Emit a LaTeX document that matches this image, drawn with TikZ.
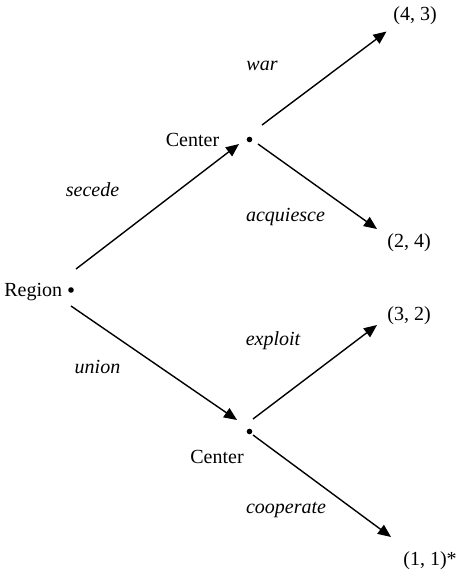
\documentclass[tikz,border=0pt]{standalone}
\usepackage{fontspec}
\setmainfont{Liberation Serif}
\usetikzlibrary{arrows.meta}
\begin{document}
\begin{tikzpicture}[x=0.5pt,y=-0.5pt,
  dot/.style={circle,fill=black,inner sep=0pt,minimum size=2.8pt},
  txt/.style={inner sep=0pt,font=\fontsize{10}{12}\selectfont},
  act/.style={inner sep=0pt,font=\fontsize{10}{12}\selectfont\itshape,anchor=base},
  move/.style={-{Triangle[length=6.5pt,width=5.5pt]},line width=0.7pt}]
\useasboundingbox (0,0) rectangle (456,574);
% decision nodes
\node[dot] (r) at (71,290) {};
\node[dot] (c1) at (249.5,139.5) {};
\node[dot] (c2) at (249.5,431.5) {};
\node[txt,anchor=base east] (rl) at (62.5,296) {Region};
\node[txt,anchor=base] (c1l) at (192.5,146) {Center};
\node[txt,anchor=base] (c2l) at (217,463) {Center};
% outcomes
\node[txt,anchor=base west] (o1) at (393,20) {(4, 3)};
\node[txt,anchor=base west] (o2) at (387,247) {(2, 4)};
\node[txt,anchor=base west] (o3) at (387,320) {(3, 2)};
\node[txt,anchor=base west] (o4) at (403,565) {(1, 1)*};
% moves
\draw[move] ([shift={(5,-21)}]r.center) -- ([shift={(-10.5,4.5)}]c1.center);
\draw[move] ([shift={(0,16)}]r.center) -- ([shift={(-12.5,-11.5)}]c2.center);
\draw[move] ([shift={(12.5,-14.5)}]c1.center) -- ([shift={(-6.5,11.5)}]o1.base west);
\draw[move] ([shift={(8.5,4.5)}]c1.center) -- ([shift={(-10,-18)}]o2.base west);
\draw[move] ([shift={(3.5,-12.5)}]c2.center) -- ([shift={(-10,5)}]o3.base west);
\draw[move] ([shift={(3.5,3.5)}]c2.center) -- ([shift={(-12,-28)}]o4.base west);
% action labels
\node[act] (lwar) at (262,70) {war};
\node[act] (lsec) at (92.5,196) {secede};
\node[act] (lacq) at (285.5,221) {acquiesce};
\node[act] (lexp) at (273,345) {exploit};
\node[act] (luni) at (97.5,373) {union};
\node[act] (lcoop) at (286,513) {cooperate};
\end{tikzpicture}
\end{document}
